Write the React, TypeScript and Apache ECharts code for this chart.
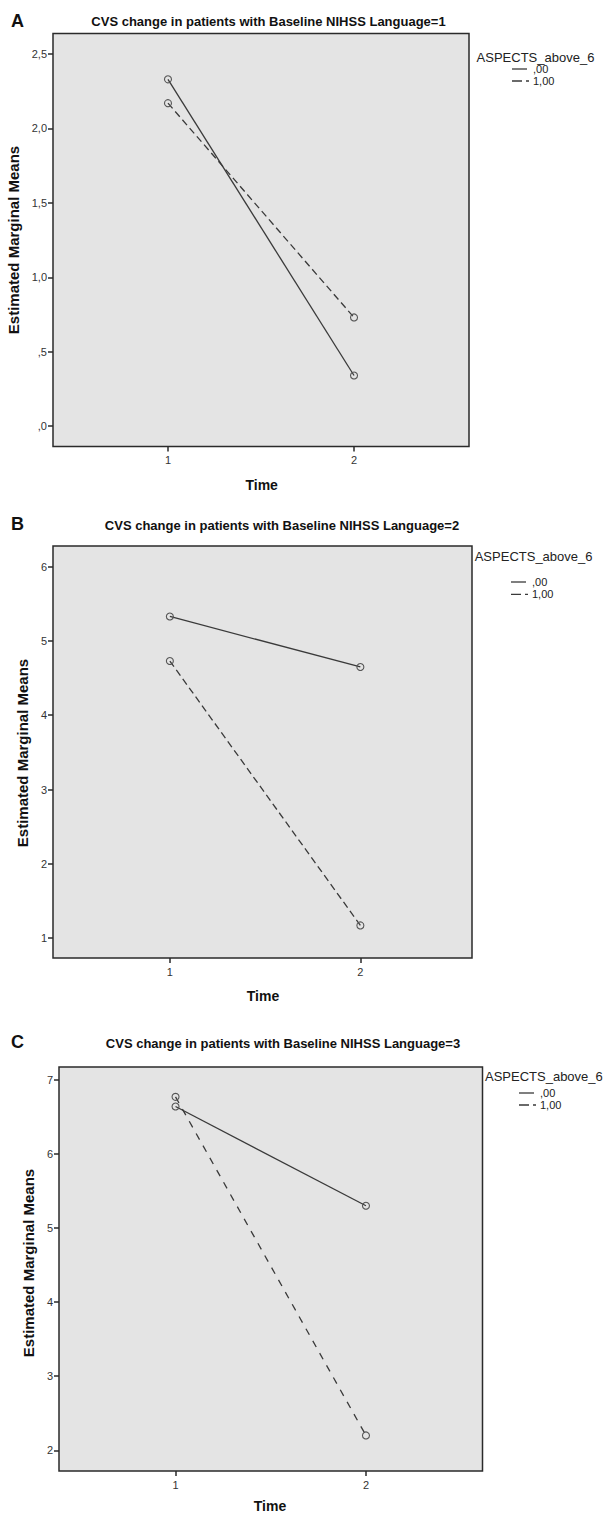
import React, { useEffect, useRef } from "react";
import * as echarts from "echarts";

// ---------- data ----------
const timePoints = [1, 2];
const xTickLabels = ["1", "2"];
const groupNames = [",00", "1,00"];
const legendTitle = "ASPECTS_above_6";
const xTitle = "Time";
const yTitle = "Estimated Marginal Means";
const panelLetters = ["A", "B", "C"];
const panelTitles = [
  "CVS change in patients with Baseline NIHSS Language=1",
  "CVS change in patients with Baseline NIHSS Language=2",
  "CVS change in patients with Baseline NIHSS Language=3",
];

const aSolid = [2.33, 0.34];
const aDashed = [2.17, 0.73];
const bSolid = [5.33, 4.65];
const bDashed = [4.73, 1.17];
const cSolid = [6.64, 5.3];
const cDashed = [6.77, 2.2];

const aYTicks = [0, 0.5, 1, 1.5, 2, 2.5];
const aYTickLabels = [",0", ",5", "1,0", "1,5", "2,0", "2,5"];
const bYTicks = [1, 2, 3, 4, 5, 6];
const bYTickLabels = ["1", "2", "3", "4", "5", "6"];
const cYTicks = [2, 3, 4, 5, 6, 7];
const cYTickLabels = ["2", "3", "4", "5", "6", "7"];

const panelData = [
  { solid: aSolid, dashed: aDashed, yTicks: aYTicks, yLabels: aYTickLabels },
  { solid: bSolid, dashed: bDashed, yTicks: bYTicks, yLabels: bYTickLabels },
  { solid: cSolid, dashed: cDashed, yTicks: cYTicks, yLabels: cYTickLabels },
];

// ---------- layout ----------
const layouts = [
  {
    grid: { left: 53, top: 33.5, width: 416, height: 413 },
    xMin: 0.382, xMax: 2.618, yMin: -0.137, yMax: 2.638,
    letter: [11, 21], title: [268.5, 21], yName: [13.5, 240], xName: [261.7, 485],
    legend: { x: 476.6, y: 57.3, sx: 512, lx: 533, r1: 69, r2: 81 },
    dash: [7, 4],
  },
  {
    grid: { left: 53, top: 546, width: 419, height: 412 },
    xMin: 0.3865, xMax: 2.586, yMin: 0.731, yMax: 6.279,
    letter: [11, 524], title: [282, 525], yName: [22, 753], xName: [263, 996],
    legend: { x: 474.7, y: 556.7, sx: 511, lx: 532, r1: 582, r2: 594.3 },
    dash: [7, 4],
  },
  {
    grid: { left: 59, top: 1067, width: 423.5, height: 404 },
    xMin: 0.388, xMax: 2.612, yMin: 1.72, yMax: 7.173,
    letter: [11, 1042], title: [283, 1043.3], yName: [28.3, 1263], xName: [270, 1506],
    legend: { x: 485, y: 1076, sx: 519, lx: 540, r1: 1093, r2: 1105 },
    dash: [7, 7],
  },
];

const FONT = '"Liberation Sans", Arial, sans-serif';
const LINE = "#3a3a3a";

function txt(x: number, y: number, text: string, font: string, align = "center", rotation = 0, fill = "#111") {
  return {
    type: "text",
    x,
    y,
    rotation,
    silent: true,
    style: {
      text,
      font,
      fill,
      align,
      verticalAlign: "middle",
      textAlign: align,
      textVerticalAlign: "middle",
    },
  };
}

export default function App() {
  const ref = useRef<HTMLDivElement>(null);
  useEffect(() => {
    document.body.style.margin = "0";
    document.body.style.overflow = "hidden";
    if (!ref.current) return;
    const chart = echarts.init(ref.current, null, { renderer: "svg" });

    const grids: any[] = [];
    const xAxes: any[] = [];
    const yAxes: any[] = [];
    const series: any[] = [];
    const graphics: any[] = [];

    layouts.forEach((L, i) => {
      const D = panelData[i];
      grids.push({
        ...L.grid,
        show: true,
        backgroundColor: "#e4e4e4",
        borderColor: "#2a2a2a",
        borderWidth: 1.5,
      });
      xAxes.push({
        type: "value",
        gridIndex: i,
        position: "bottom",
        min: L.xMin,
        max: L.xMax,
        axisLine: { show: false, onZero: false },
        splitLine: { show: false },
        axisTick: { show: true, customValues: timePoints, length: 5, lineStyle: { color: "#2a2a2a", width: 1.5 } },
        axisLabel: {
          customValues: timePoints,
          formatter: (v: number) => xTickLabels[timePoints.indexOf(v)] ?? "",
          fontSize: 11,
          fontFamily: FONT,
          color: "#333",
          margin: 8,
        },
      });
      yAxes.push({
        type: "value",
        gridIndex: i,
        position: "left",
        min: L.yMin,
        max: L.yMax,
        axisLine: { show: false, onZero: false },
        splitLine: { show: false },
        axisTick: { show: true, customValues: D.yTicks, length: 5, lineStyle: { color: "#2a2a2a", width: 1.5 } },
        axisLabel: {
          customValues: D.yTicks,
          formatter: (v: number) => {
            const k = D.yTicks.findIndex((t) => Math.abs(t - v) < 1e-6);
            return k >= 0 ? D.yLabels[k] : "";
          },
          fontSize: 11,
          fontFamily: FONT,
          color: "#333",
          margin: 6,
        },
      });
      const mk = (vals: number[], dashed: boolean, name: string) => ({
        type: "line",
        name,
        xAxisIndex: i,
        yAxisIndex: i,
        data: timePoints.map((t, k) => [t, vals[k]]),
        symbol: "circle",
        symbolSize: 7,
        itemStyle: { color: "rgba(0,0,0,0)", borderColor: "#555", borderWidth: 1.1 },
        lineStyle: { color: LINE, width: 1.3, type: dashed ? L.dash : "solid" },
        emphasis: { disabled: true },
        silent: true,
      });
      series.push(mk(D.solid, false, groupNames[0]));
      series.push(mk(D.dashed, true, groupNames[1]));

      graphics.push(txt(L.letter[0], L.letter[1], panelLetters[i], `bold 18px ${FONT}`, "left"));
      graphics.push(txt(L.title[0], L.title[1], panelTitles[i], `bold 13px ${FONT}`));
      graphics.push(txt(L.yName[0], L.yName[1], yTitle, `bold 15px ${FONT}`, "center", Math.PI / 2));
      graphics.push(txt(L.xName[0], L.xName[1], xTitle, `bold 14px ${FONT}`));
      const lg = L.legend;
      graphics.push(txt(lg.x, lg.y, legendTitle, `13px ${FONT}`, "left", 0, "#222"));
      graphics.push({
        type: "line",
        silent: true,
        shape: { x1: lg.sx, y1: lg.r1, x2: lg.sx + 15, y2: lg.r1 },
        style: { stroke: LINE, lineWidth: 1.3 },
      });
      graphics.push({
        type: "line",
        silent: true,
        shape: { x1: lg.sx, y1: lg.r2, x2: lg.sx + 17, y2: lg.r2 },
        style: { stroke: LINE, lineWidth: 1.3, lineDash: [10, 4, 3, 100] },
      });
      graphics.push(txt(lg.lx, lg.r1, groupNames[0], `11px ${FONT}`, "left", 0, "#222"));
      graphics.push(txt(lg.lx, lg.r2, groupNames[1], `11px ${FONT}`, "left", 0, "#222"));
    });

    chart.setOption({
      animation: false,
      backgroundColor: "#ffffff",
      grid: grids,
      xAxis: xAxes,
      yAxis: yAxes,
      series,
      graphic: graphics,
    });
    return () => chart.dispose();
  }, []);
  return <div ref={ref} style={{ width: 606, height: 1514 }} />;
}
